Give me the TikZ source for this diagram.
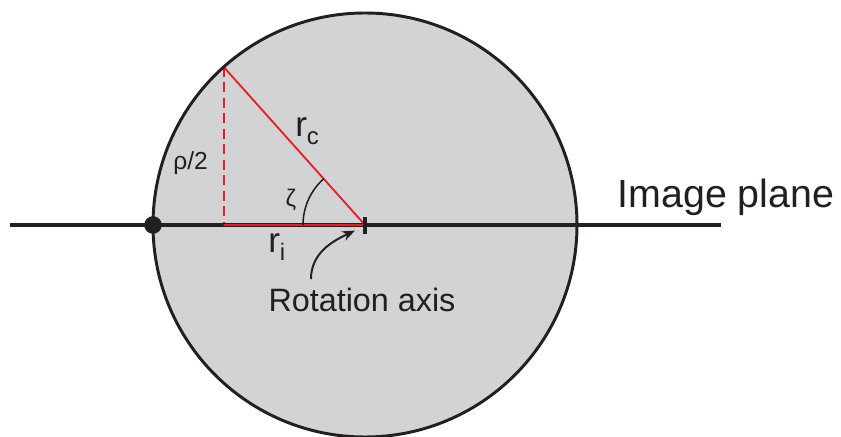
\documentclass[tikz,border=0pt]{standalone}
\usepackage{fontspec}
\setmainfont{Liberation Sans}
\usetikzlibrary{arrows.meta}
\definecolor{discgray}{RGB}{209,211,212}
\definecolor{inkblack}{RGB}{35,31,32}
\definecolor{linered}{RGB}{237,28,36}
\newcommand{\lowsub}[1]{\raisebox{-0.22em}{\fontsize{17}{17}\selectfont #1}}

\begin{document}
\begin{tikzpicture}[
  redline/.style={draw=linered, line width=1.3pt},
  inkline/.style={draw=inkblack},
  lbl/.style={inner sep=0pt, text=inkblack},
]
  \useasboundingbox (-9.125,-5.3) rectangle (11.9,5.625);
  \coordinate (O) at (0,0);
  \coordinate (lineL) at (-8.875,0);
  \coordinate (lineR) at (8.9,0);
  \coordinate (top) at (131.8:5.3);
  \coordinate (foot) at (top |- O);
  \coordinate (tickT) at (0,0.2);
  \coordinate (tickB) at (0,-0.225);
  \coordinate (arcA) at (180:1.55);
  \coordinate (axtail) at (-1.35,-1.35);
  \coordinate (axhead) at (-0.25,-0.14);
  \fill[discgray] (O) circle (5.3);
  \draw[redline, dash pattern=on 7pt off 4pt] (top) -- (foot);
  \draw[inkline, line width=3pt] (lineL) -- (lineR);
  \draw[redline] (foot) -- (O) -- (top);
  \draw[inkline, line width=2.1pt] (O) circle (5.3);
  \node[circle, fill=inkblack, minimum size=0.44cm, inner sep=0pt] (pin) at (-5.3,0) {};
  \draw[inkline, line width=2.6pt] (tickT) -- (tickB);
  \draw[inkline, line width=1.1pt] (arcA) arc (180:131.8:1.55);
  \node[lbl, font=\fontsize{17.5}{17.5}\selectfont, anchor=base] (rho) at (-4.36,1.375) {ρ/2};
  \node[lbl, font=\fontsize{17}{17}\selectfont] (zeta) at (-1.85,0.625) {ζ};
  \node[lbl, font=\fontsize{25}{25}\selectfont, anchor=base west] (rc) at (-1.75,2.2) {r\lowsub{c}};
  \node[lbl, font=\fontsize{25}{25}\selectfont, anchor=base west] (ri) at (-2.425,-0.7) {r\lowsub{i}};
  \node[lbl, font=\fontsize{23}{23}\selectfont, anchor=base] (axis) at (-0.075,-2.17) {Rotation axis};
  \node[lbl, font=\fontsize{28}{28}\selectfont, anchor=base] (plane) at (9.025,0.425) {Image plane};
  \draw[inkline, line width=1.4pt, -{Stealth[length=9pt, width=7pt]}]
    (axtail) to[out=90, in=205] (axhead);
\end{tikzpicture}
\end{document}
